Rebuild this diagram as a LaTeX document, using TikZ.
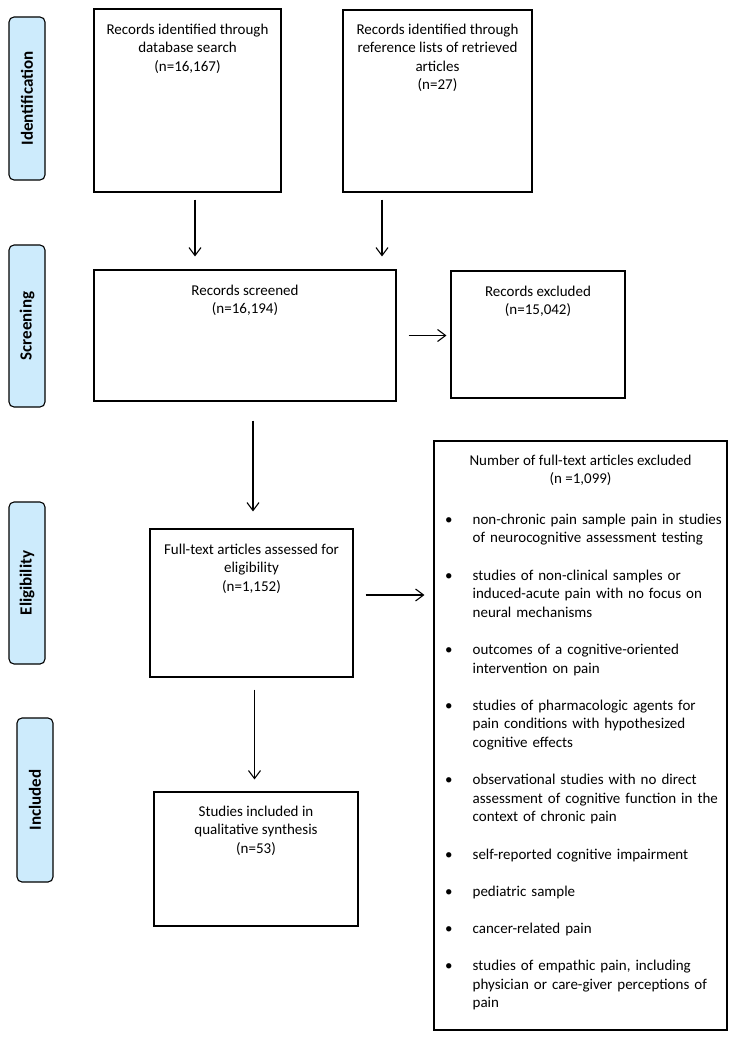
\documentclass[tikz,border=0pt]{standalone}
\usepackage{fontspec}
\setmainfont{Carlito}
\usetikzlibrary{arrows.meta}
\definecolor{stagefill}{RGB}{205,235,252}
\newcommand{\exitem}[1]{\par\noindent\hangindent=27.5pt\hangafter=1\makebox[27.5pt][l]{\textbullet}#1}

\begin{document}
\begin{tikzpicture}[x=1pt,y=-1pt,>={Straight Barb[length=8pt,width=12pt]},
    font=\fontsize{15}{18.6}\selectfont,
    stage/.style={draw,line width=1.1pt,fill=stagefill,rounded corners=5pt,rotate=90,
      minimum height=36pt,inner sep=0pt,font=\fontsize{17}{20}\selectfont\bfseries},
    box/.style={draw,line width=1.1pt,inner sep=0pt},
    txt/.style={anchor=north,align=center,inner sep=0pt},
    flow/.style={->,line width=1.1pt}]
\useasboundingbox (0,0) rectangle (738,1041);

    \node[stage,minimum width=163pt] (idlab) at (27,98.5) {Identification};
    \node[stage,minimum width=162pt] (scrlab) at (27,326) {Screening};
    \node[stage,minimum width=162pt] (elilab) at (27,583) {Eligibility};
    \node[stage,minimum width=164pt] (inclab) at (35,800) {Included};

\node[box,minimum width=187pt,minimum height=183pt] (db) at (187.5,100.5) {};
\node[txt] (dbtxt) at ([yshift=-15pt]db.north) {Records identified through\\database search\\(n=16,167)};
\node[box,minimum width=189pt,minimum height=182pt] (refl) at (437.5,101) {};
\node[txt] (refltxt) at ([yshift=-14pt]refl.north) {Records identified through\\reference lists of retrieved\\articles\\(n=27)};

\node[box,minimum width=302pt,minimum height=131pt] (scr) at (245,335.5) {};
\node[txt] (scrtxt) at ([yshift=-15pt]scr.north) {Records screened\\(n=16,194)};
\node[box,minimum width=174pt,minimum height=127pt] (excl) at (538,334.5) {};
\node[txt] (excltxt) at ([yshift=-15pt]excl.north) {Records excluded\\(n=15,042)};

\node[box,minimum width=203pt,minimum height=148pt] (full) at (251.5,603) {};
\node[txt] (fulltxt) at ([yshift=-15pt]full.north) {Full-text articles assessed for\\eligibility\\(n=1,152)};
\node[box,minimum width=204pt,minimum height=134pt] (inc) at (256,859) {};
\node[txt] (inctxt) at ([yshift=-14pt]inc.north) {Studies included in\\qualitative synthesis\\(n=53)};

\node[box,minimum width=293pt,minimum height=589pt] (ftex) at (580.5,735.5) {};
\node[txt] (fttitle) at ([yshift=-14pt]ftex.north) {Number of full-text articles excluded\\(n =1,099)};
\node[anchor=north west,inner sep=0pt,text width=280pt] (ftlist) at ([xshift=11.5pt,yshift=-65pt]ftex.north west) {%
  \setlength{\parskip}{0pt}%
  \exitem{non-chronic pain sample pain in studies\newline of neurocognitive assessment testing}%
  \setlength{\parskip}{18.6pt}
  \exitem{studies of non-clinical samples or\newline induced-acute pain with no focus on\newline neural mechanisms}
  \exitem{outcomes of a cognitive-oriented\newline intervention on pain}
  \exitem{studies of pharmacologic agents for\newline pain conditions with hypothesized\newline cognitive effects}
  \exitem{observational studies with no direct\newline assessment of cognitive function in the\newline context of chronic pain}
  \exitem{self-reported cognitive impairment}
  \exitem{pediatric sample}
  \exitem{cancer-related pain}
  \exitem{studies of empathic pain, including\newline physician or care-giver perceptions of\newline pain}\par};

\draw[flow,shorten <=7pt,shorten >=13pt] ([xshift=7.5pt]db.south) -- ([xshift=7.5pt]db.south |- scr.north);
\draw[flow,shorten <=7pt,shorten >=13pt] ([xshift=-55.5pt]refl.south) -- ([xshift=-55.5pt]refl.south |- scr.north);
\draw[flow,shorten <=12pt,shorten >=4pt] (scr.east) -- (scr.east -| excl.west);
\draw[flow,shorten <=19pt,shorten >=17pt] ([xshift=8pt]scr.south) -- ([xshift=8pt]scr.south |- full.north);
\draw[flow,shorten <=12pt,shorten >=9pt] ([yshift=8pt]full.east) -- ([yshift=8pt]full.east -| ftex.west);
\draw[flow,shorten <=12pt,shorten >=12pt] ([xshift=3pt]full.south) -- ([xshift=3pt]full.south |- inc.north);

\end{tikzpicture}
\end{document}
